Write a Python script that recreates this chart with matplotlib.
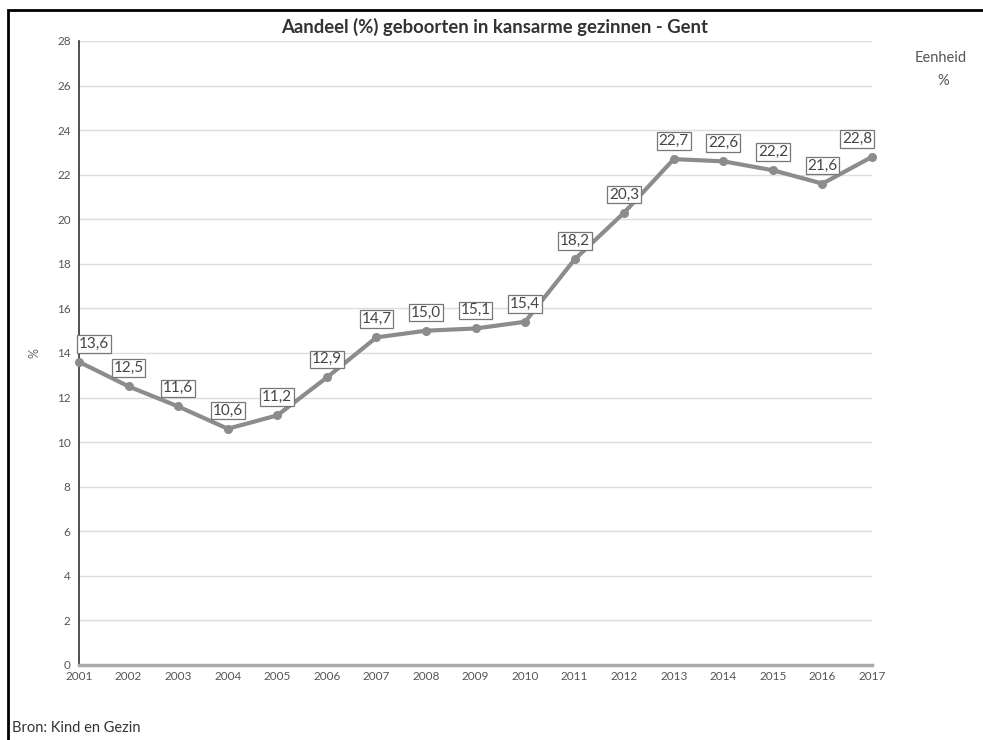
import matplotlib.pyplot as plt
from matplotlib.patches import Rectangle

plt.rcParams['font.family'] = ['Lato', 'DejaVu Sans']

# data
years = [2001, 2002, 2003, 2004, 2005, 2006, 2007, 2008, 2009,
         2010, 2011, 2012, 2013, 2014, 2015, 2016, 2017]
share = [13.6, 12.5, 11.6, 10.6, 11.2, 12.9, 14.7, 15.0, 15.1,
         15.4, 18.2, 20.3, 22.7, 22.6, 22.2, 21.6, 22.8]
y_ticks = list(range(0, 29, 2))

title = 'Aandeel (%) geboorten in kansarme gezinnen - Gent'
source = 'Bron: Kind en Gezin'

fig = plt.figure(figsize=(9.83, 7.4), dpi=100)
ax = fig.add_axes([0.0804, 0.1014, 0.8067, 0.8432])

line_col = '#8c8c8c'
ax.plot(years, share, color=line_col, linewidth=3, marker='o', markersize=5.5,
        solid_capstyle='round', zorder=3, clip_on=False)

# value labels in boxes
for i, (x, v) in enumerate(zip(years, share)):
    ha = 'center'
    if i == 0:
        ha = 'left'
    elif i == len(years) - 1:
        ha = 'right'
    ax.annotate(f'{v:.1f}'.replace('.', ','), (x, v), xytext=(0, 8),
                textcoords='offset points', ha=ha, va='bottom',
                fontsize=11, color='#444444', zorder=4,
                bbox=dict(boxstyle='square,pad=0.12', fc='white',
                          ec='#777777', lw=0.9))

ax.set_xlim(2001, 2017)
ax.set_ylim(0, 28)
ax.set_xticks(years)
ax.set_yticks(y_ticks)
ax.tick_params(axis='both', labelsize=8.5, colors='#555555', length=0, pad=6)
ax.tick_params(axis='x', pad=4)
ax.grid(True, axis='y', color='#dddddd', linewidth=1)
ax.set_axisbelow(True)
for s in ['top', 'right']:
    ax.spines[s].set_visible(False)
ax.spines['left'].set_color('#333333')
ax.spines['left'].set_linewidth(1.2)
ax.spines['bottom'].set_color('#aaaaaa')
ax.spines['bottom'].set_linewidth(2.5)
ax.set_ylabel('%', fontsize=9, color='#666666', labelpad=12)

fig.text(0.503, 0.963, title, ha='center', va='center', fontsize=13.3,
         fontweight='bold', color='#333333')
fig.text(0.957, 0.922, 'Eenheid', ha='center', va='center', fontsize=10.5,
         color='#555555')
fig.text(0.959, 0.891, '%', ha='center', va='center', fontsize=10.5,
         color='#555555')
fig.text(0.012, 0.016, source, ha='left', va='center', fontsize=10.5,
         color='#333333')

# outer frame
fig.patches.append(Rectangle((0.0085, -0.05), 1.1, 1.036,
                             transform=fig.transFigure, fill=False,
                             ec='black', lw=2))

fig.savefig('out.png', dpi=100)
